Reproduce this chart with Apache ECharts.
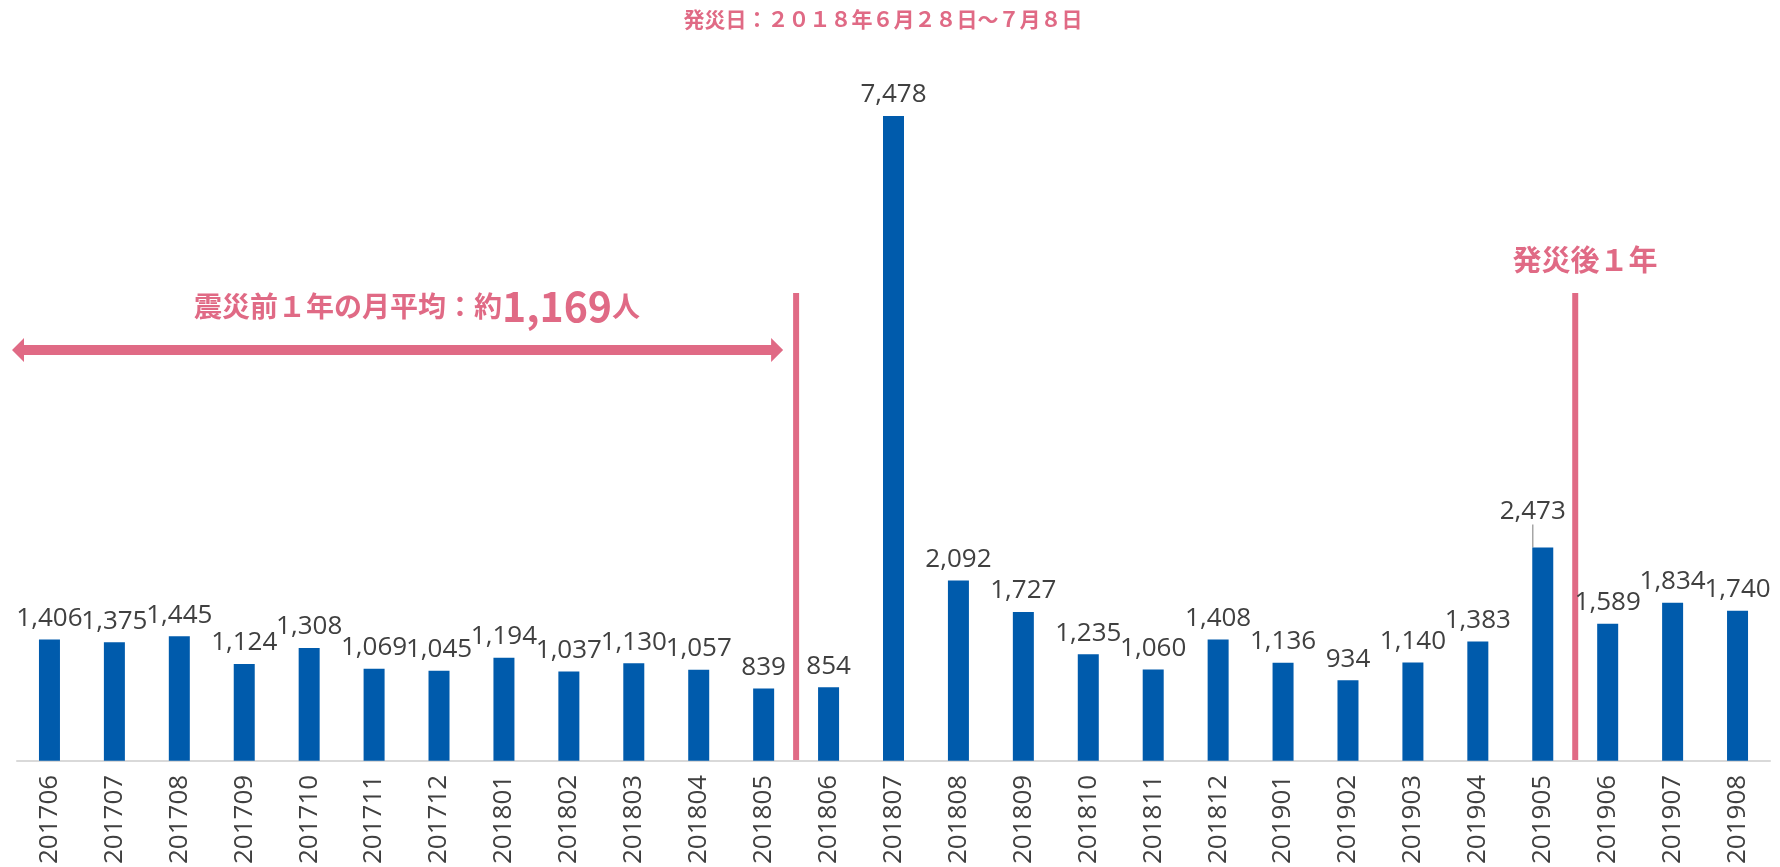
<!DOCTYPE html>
<html>
<head>
<meta charset="utf-8">
<script src="https://cdn.jsdelivr.net/npm/echarts@6/dist/echarts.min.js"></script>
<style>
  html, body { margin: 0; padding: 0; background: #fff; }
  #main { width: 1780px; height: 867px; }
</style>
</head>
<body>
<div id="main"></div>
<script>
var months = ['201706', '201707', '201708', '201709', '201710', '201711', '201712',
    '201801', '201802', '201803', '201804', '201805', '201806', '201807', '201808',
    '201809', '201810', '201811', '201812', '201901', '201902', '201903', '201904',
    '201905', '201906', '201907', '201908'];
var visitors = [1406, 1375, 1445, 1124, 1308, 1069, 1045, 1194, 1037, 1130, 1057, 839,
    854, 7478, 2092, 1727, 1235, 1060, 1408, 1136, 934, 1140, 1383, 2473, 1589, 1834, 1740];
var movedLabel = 23; // 201905 label pulled up with a leader line
var pink = '#E06A85';

function fmt(v) {
    return String(v).replace(/\B(?=(\d{3})+(?!\d))/g, ',');
}

var barData = visitors.map(function(v, i) {
    if (i === movedLabel) {
        return { value: v, labelLine: { show: true } };
    }
    return v;
});

var option = {
    animation: false,
    grid: {
        left: 17,
        right: 10,
        top: 71,
        bottom: 106
    },
    xAxis: [{
        type: 'category',
        data: months,
        axisLine: { lineStyle: { color: '#d9d9d9', width: 2 } },
        axisTick: { show: false },
        axisLabel: {
            rotate: 90,
            margin: 14,
            color: '#404040',
            fontSize: 26,
            fontFamily: 'Open Sans'
        }
    }],
    yAxis: [{
        type: 'value',
        min: 0,
        max: 8000,
        show: false
    }],
    series: [{
        name: '人数',
        type: 'bar',
        barWidth: 21,
        itemStyle: { color: '#005BAC' },
        label: {
            show: true,
            position: 'top',
            distance: 8,
            color: '#404040',
            fontSize: 26,
            fontFamily: 'Open Sans',
            formatter: function(p) { return fmt(p.value); }
        },
        labelLine: {
            lineStyle: { color: '#a6a6a6', width: 1.5 }
        },
        labelLayout: function(p) {
            if (p.dataIndex === movedLabel) {
                return { dx: -10, dy: -15 };
            }
        },
        data: barData
    }]
};

var myChart = echarts.init(document.getElementById('main'));
myChart.setOption(option);

// annotation positions from the axes
var xMid1 = (myChart.convertToPixel({ seriesIndex: 0 }, [11, 0])[0] +
    myChart.convertToPixel({ seriesIndex: 0 }, [12, 0])[0]) / 2;
var xMid2 = (myChart.convertToPixel({ seriesIndex: 0 }, [23, 0])[0] +
    myChart.convertToPixel({ seriesIndex: 0 }, [24, 0])[0]) / 2;
var yBase = myChart.convertToPixel({ seriesIndex: 0 }, [0, 0])[1];
var lineTop = 293;
var arrowY = 350, arrowL = 12, arrowR = xMid1 - 13;

myChart.setOption({
    graphic: [{
        type: 'text',
        style: {
            text: '発災日：２０１８年６月２８日～７月８日',
            x: 883, y: 19,
            align: 'center', verticalAlign: 'middle',
            fill: pink,
            fontSize: 21,
            fontWeight: 'bold',
            fontFamily: 'Noto Sans CJK JP'
        }
    }, {
        type: 'line',
        shape: { x1: xMid1, y1: lineTop, x2: xMid1, y2: yBase },
        style: { stroke: pink, lineWidth: 6 }
    }, {
        type: 'line',
        shape: { x1: xMid2, y1: lineTop, x2: xMid2, y2: yBase },
        style: { stroke: pink, lineWidth: 6 }
    }, {
        type: 'polygon',
        shape: {
            points: [
                [arrowL, arrowY],
                [arrowL + 12, arrowY - 12],
                [arrowL + 12, arrowY - 5],
                [arrowR - 12, arrowY - 5],
                [arrowR - 12, arrowY - 12],
                [arrowR, arrowY],
                [arrowR - 12, arrowY + 12],
                [arrowR - 12, arrowY + 5],
                [arrowL + 12, arrowY + 5],
                [arrowL + 12, arrowY + 12]
            ]
        },
        style: { fill: pink }
    }, {
        type: 'text',
        style: {
            text: '{a|震災前１年の月平均：約}{b|1,169}{a|人}',
            x: 417, y: 306,
            align: 'center', verticalAlign: 'middle',
            rich: {
                a: { fill: pink, fontSize: 28, fontWeight: 'bold', fontFamily: 'Noto Sans CJK JP' },
                b: { fill: pink, fontSize: 41, fontWeight: 'bold', fontFamily: 'Noto Sans CJK JP' }
            }
        }
    }, {
        type: 'text',
        style: {
            text: '発災後１年',
            x: 1585, y: 260,
            align: 'center', verticalAlign: 'middle',
            fill: pink,
            fontSize: 29,
            fontWeight: 'bold',
            fontFamily: 'Noto Sans CJK JP'
        }
    }]
});
</script>
</body>
</html>
